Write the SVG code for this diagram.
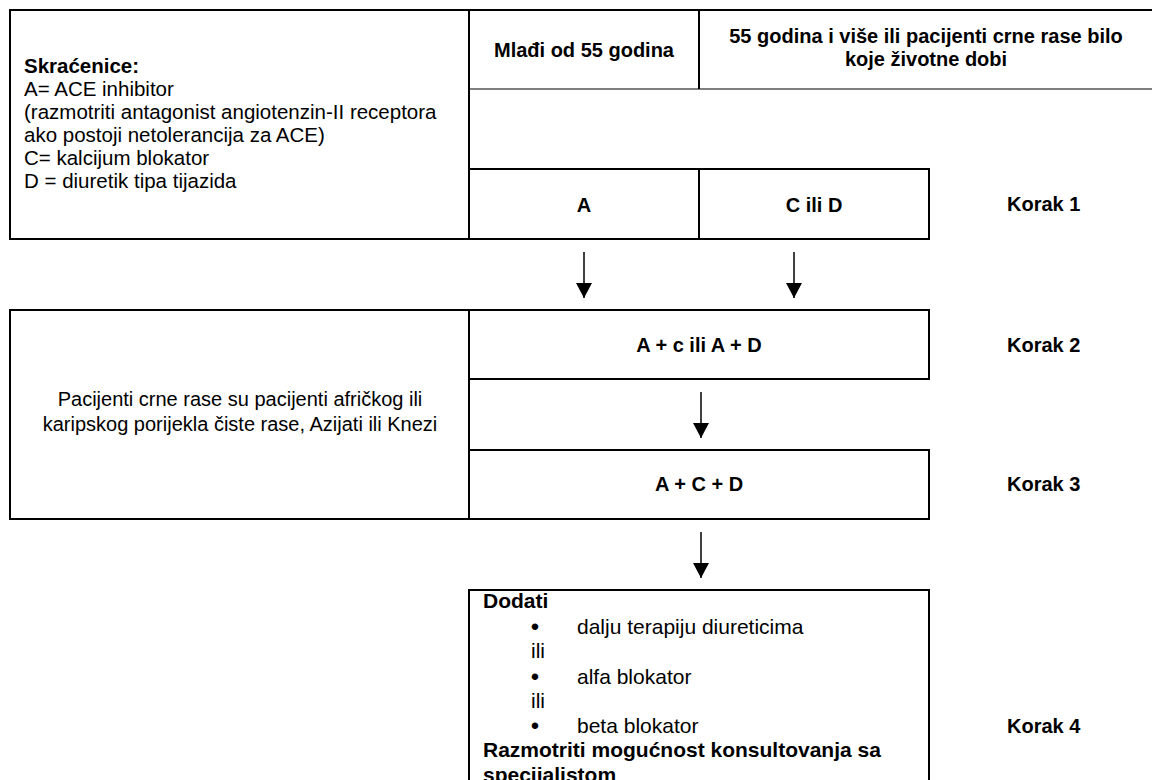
<svg xmlns="http://www.w3.org/2000/svg" width="1152" height="780" viewBox="0 0 1152 780">
<style>
text{font-family:"Liberation Sans",Arial,sans-serif;font-size:20px;fill:#000}
.b{font-weight:bold}
.c{text-anchor:middle}
.lg text{font-size:20.5px}
.s4 text{font-size:21px}
.s4 text.dot{font-size:24px}
.box{fill:none;stroke:#000;stroke-width:2}
.thin{fill:none;stroke:#000;stroke-width:1.2}
.arr{stroke:#000;stroke-width:1.5;fill:none}
</style>
<defs>
<marker id="ah" viewBox="0 0 15 16" refX="15" refY="8" markerWidth="15" markerHeight="16" markerUnits="userSpaceOnUse" orient="auto">
<path d="M0,0 L15,8 L0,16 Z" fill="#000"/>
</marker>
</defs>
<rect width="1152" height="780" fill="#fff"/>

<g id="legend" class="lg">
<rect class="box" x="10" y="10" width="459" height="229"/>
<text x="24" y="73" class="b">Skraćenice:</text>
<text x="24" y="96">A= ACE inhibitor</text>
<text x="24" y="119">(razmotriti antagonist angiotenzin-II receptora</text>
<text x="24" y="142">ako postoji netolerancija za ACE)</text>
<text x="24" y="165">C= kalcijum blokator</text>
<text x="24" y="188">D = diuretik tipa tijazida</text>
</g>

<g id="header">
<line class="box" x1="469" y1="10" x2="1152" y2="10"/>
<line class="thin" x1="469" y1="89" x2="1152" y2="89"/>
<line class="box" x1="699" y1="10" x2="699" y2="89"/>
<text x="584" y="57" class="b c">Mlađi od 55 godina</text>
<text x="926" y="43" class="b c">55 godina i više ili pacijenti crne rase bilo</text>
<text x="926" y="66" class="b c">koje životne dobi</text>
</g>

<g id="step1">
<rect class="box" x="469" y="169" width="460" height="70"/>
<line class="box" x1="699" y1="169" x2="699" y2="239"/>
<text x="584" y="212" class="b c">A</text>
<text x="814" y="212" class="b c">C ili D</text>
<text x="1007" y="211" class="b">Korak 1</text>
</g>

<g id="note">
<rect class="box" x="10" y="310" width="459" height="209"/>
<text x="240" y="406" class="c">Pacijenti crne rase su pacijenti afričkog ili</text>
<text x="240" y="431" class="c">karipskog porijekla čiste rase, Azijati ili Knezi</text>
</g>

<g id="step2">
<rect class="box" x="469" y="310" width="460" height="69"/>
<text x="699" y="352" class="b c">A + c ili A + D</text>
<text x="1007" y="352" class="b">Korak 2</text>
</g>

<g id="step3">
<rect class="box" x="469" y="450" width="460" height="69"/>
<text x="699" y="491" class="b c">A + C + D</text>
<text x="1007" y="491" class="b">Korak 3</text>
</g>

<g id="step4" class="s4">
<path class="box" d="M469,800 V590 H929 V800"/>
<text x="483" y="608" class="b">Dodati</text>
<text x="535" y="635" class="c dot">•</text>
<text x="577" y="634">dalju terapiju diureticima</text>
<text x="531" y="658">ili</text>
<text x="535" y="685" class="c dot">•</text>
<text x="577" y="684">alfa blokator</text>
<text x="531" y="708">ili</text>
<text x="535" y="734" class="c dot">•</text>
<text x="577" y="733">beta blokator</text>
<text x="483" y="757" class="b">Razmotriti mogućnost konsultovanja sa</text>
<text x="483" y="782" class="b">specijalistom</text>
</g>
<text x="1007" y="733" class="b">Korak 4</text>

<g id="connectors">
<line class="arr" x1="584" y1="252" x2="584" y2="298" marker-end="url(#ah)"/>
<line class="arr" x1="794" y1="252" x2="794" y2="298" marker-end="url(#ah)"/>
<line class="arr" x1="701" y1="392" x2="701" y2="438" marker-end="url(#ah)"/>
<line class="arr" x1="701" y1="532" x2="701" y2="578" marker-end="url(#ah)"/>
</g>
</svg>
